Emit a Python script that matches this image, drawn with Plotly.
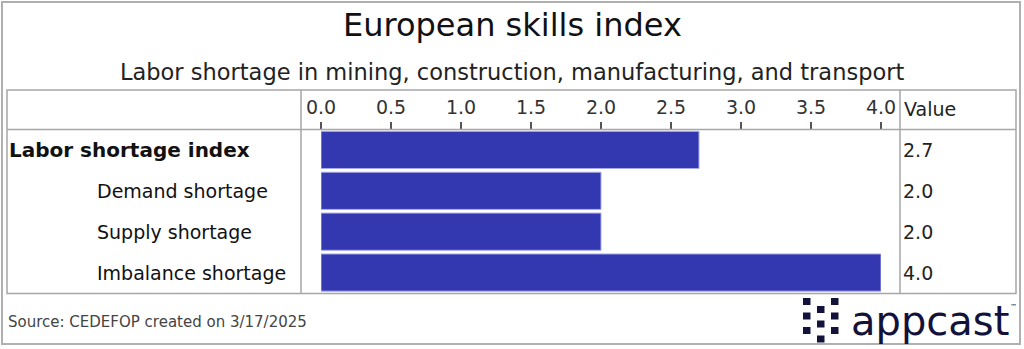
import plotly.graph_objects as go

# Data
categories = ["Labor shortage index", "Demand shortage", "Supply shortage", "Imbalance shortage"]
values = [2.7, 2.0, 2.0, 4.0]
levels = [0, 1, 1, 1]  # 0 = headline index, 1 = component
tick_values = [0.0, 0.5, 1.0, 1.5, 2.0, 2.5, 3.0, 3.5, 4.0]
tick_labels = [f"{t:.1f}" for t in tick_values]

W, H = 1024, 349
FONT = "DejaVu Sans"
BAR = "#3338b0"
GRID = "#a6a6a6"


def px(x):
    return x / W


def py(y):
    return 1 - y / H


fig = go.Figure()
fig.add_trace(go.Bar(
    x=values,
    y=categories,
    orientation="h",
    marker=dict(color=BAR, line=dict(color="#a9acea", width=1)),
    hoverinfo="x+y",
))

# Table frame and dividers
shapes = [
    dict(type="rect", xref="paper", yref="paper", x0=px(2), x1=px(1020), y0=py(344), y1=py(2),
         line=dict(color="#b0b0b0", width=2)),
    dict(type="rect", xref="paper", yref="paper", x0=px(7), x1=px(1016), y0=py(293.5), y1=py(90),
         line=dict(color=GRID, width=1.5)),
    dict(type="line", xref="paper", yref="paper", x0=px(7), x1=px(1016), y0=py(129.5), y1=py(129.5),
         line=dict(color=GRID, width=1.5)),
    dict(type="line", xref="paper", yref="paper", x0=px(301), x1=px(301), y0=py(293.5), y1=py(90),
         line=dict(color=GRID, width=1.5)),
    dict(type="line", xref="paper", yref="paper", x0=px(900), x1=px(900), y0=py(293.5), y1=py(90),
         line=dict(color=GRID, width=1.5)),
]

# appcast logo mark: three columns of small squares
LOGO = "#12123a"
dot_cols = [(803, [298, 312.5, 327]), (817, [306, 320.5, 335.5]), (831, [298, 312.5, 327])]
for cx, rows in dot_cols:
    for ry in rows:
        shapes.append(dict(type="rect", xref="paper", yref="paper",
                           x0=px(cx), x1=px(cx + 7.5), y0=py(ry + 7), y1=py(ry),
                           fillcolor=LOGO, line=dict(width=0)))

annotations = [
    dict(text="European skills index", x=0.5, y=py(25.5), xref="paper", yref="paper",
         showarrow=False, xanchor="center", yanchor="middle",
         font=dict(family=FONT, size=32, color="#111111")),
    dict(text="Labor shortage in mining, construction, manufacturing, and transport",
         x=0.5, y=py(72), xref="paper", yref="paper", showarrow=False,
         xanchor="center", yanchor="middle", font=dict(family=FONT, size=22.5, color="#222222")),
    dict(text="Value", x=px(902), y=py(109), xref="paper", yref="paper", showarrow=False,
         xanchor="left", yanchor="middle", font=dict(family=FONT, size=19, color="#222222")),
    dict(text="Source: CEDEFOP created on 3/17/2025", x=px(6), y=py(322), xref="paper", yref="paper",
         showarrow=False, xanchor="left", yanchor="middle",
         font=dict(family=FONT, size=15, color="#444444")),
    dict(text="appcast", x=px(849), y=py(321), xref="paper", yref="paper", showarrow=False,
         xanchor="left", yanchor="middle", font=dict(family=FONT, size=40, color=LOGO)),
    dict(text="™", x=px(1008), y=py(307), xref="paper", yref="paper", showarrow=False,
         xanchor="left", yanchor="middle", font=dict(family=FONT, size=7, color=LOGO)),
]

for cat, val, lvl in zip(categories, values, levels):
    label = f"<b>{cat}</b>" if lvl == 0 else cat
    annotations.append(dict(text=label, x=px(7 if lvl == 0 else 95), y=cat, xref="paper", yref="y",
                            showarrow=False, xanchor="left", yanchor="middle",
                            font=dict(family=FONT, size=20 if lvl == 0 else 19, color="#111111")))
    annotations.append(dict(text=f"{val:.1f}", x=px(901), y=cat, xref="paper", yref="y",
                            showarrow=False, xanchor="left", yanchor="middle",
                            font=dict(family=FONT, size=19, color="#222222")))

fig.update_layout(
    width=W, height=H,
    autosize=False,
    margin=dict(l=0, r=0, t=0, b=0, pad=0, autoexpand=False),
    paper_bgcolor="white", plot_bgcolor="white",
    showlegend=False,
    bargap=0.09,
    shapes=shapes,
    annotations=annotations,
    xaxis=dict(domain=[px(321), px(881)], range=[0, 4], side="top",
               tickvals=tick_values, ticktext=tick_labels,
               ticks="outside", ticklen=7, tickwidth=1.5, tickcolor="#555555",
               tickfont=dict(family=FONT, size=19, color="#333333"),
               showgrid=False, zeroline=False, showline=False, fixedrange=True,
               automargin=False),
    yaxis=dict(domain=[py(293), py(129.5)], categoryorder="array", categoryarray=categories,
               autorange="reversed", showticklabels=False, ticks="",
               showgrid=False, zeroline=False, showline=False, fixedrange=True,
               automargin=False),
)

fig.write_html("out.html", config={"responsive": False, "displayModeBar": False})
